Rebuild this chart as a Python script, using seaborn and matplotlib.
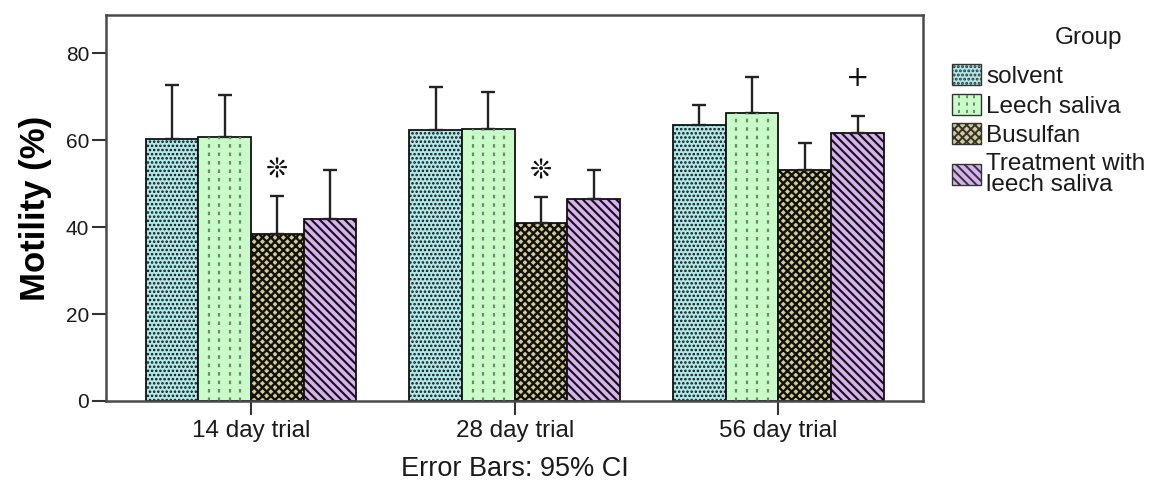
import matplotlib
matplotlib.use("Agg")
import matplotlib.pyplot as plt
from matplotlib.patches import Patch, Rectangle
from matplotlib.lines import Line2D
from matplotlib.legend_handler import HandlerBase
import seaborn as sns
import pandas as pd

trials = ["14 day trial", "28 day trial", "56 day trial"]
groups = ["solvent", "Leech saliva", "Busulfan", "Treatment with\nleech saliva"]
means = {
    "solvent":                      [60.2, 62.3, 63.4],
    "Leech saliva":                 [60.7, 62.6, 66.2],
    "Busulfan":                     [38.4, 40.9, 53.1],
    "Treatment with\nleech saliva": [41.9, 46.4, 61.6],
}
upper_ci = {
    "solvent":                      [72.6, 72.2, 68.0],
    "Leech saliva":                 [70.3, 71.0, 74.6],
    "Busulfan":                     [47.1, 46.9, 59.3],
    "Treatment with\nleech saliva": [53.1, 53.1, 65.6],
}
marks = [("14 day trial", "Busulfan", "\u274a", 53.0),
         ("28 day trial", "Busulfan", "\u274a", 52.8),
         ("56 day trial", "Treatment with\nleech saliva", "+", 74.2)]

colors = {"solvent": "#aee8e8", "Leech saliva": "#c9fcc9",
          "Busulfan": "#d4cc8c", "Treatment with\nleech saliva": "#d8b2f0"}
hatches = {"solvent": "....", "Leech saliva": None, "Busulfan": "xxxx",
           "Treatment with\nleech saliva": "\\\\\\\\"}
hatch_colors = {"solvent": "#557f7f", "Leech saliva": "#6a8a6a",
                "Busulfan": "#1a1a1a", "Treatment with\nleech saliva": "#2a2030"}
hatch_lw = {"solvent": 1.2, "Leech saliva": 1.0, "Busulfan": 1.7,
            "Treatment with\nleech saliva": 1.5}
leech_fracs = [0.2, 0.4, 0.6, 0.8]

rows = []
for g in groups:
    for i, t in enumerate(trials):
        rows.append({"trial": t, "group": g, "mean": means[g][i], "hi": upper_ci[g][i]})
df = pd.DataFrame(rows)

sns.set_style("white")
plt.rcParams["font.family"] = ["Liberation Sans", "DejaVu Sans"]
plt.rcParams["hatch.linewidth"] = 1.4

fig = plt.figure(figsize=(11.62, 4.84), dpi=100)
ax = fig.add_axes([0.0912, 0.1715, 0.7035, 0.7975])

sns.barplot(data=df, x="trial", y="mean", hue="group", order=trials, hue_order=groups,
            palette=colors, dodge=True, width=0.8, errorbar=None, saturation=1,
            edgecolor="#111111", linewidth=1.3, legend=False, ax=ax)


def style_patch(p, g):
    if hatches[g]:
        p.set_hatch(hatches[g])
        try:
            p.set_hatchcolor(hatch_colors[g])
        except Exception:
            pass
        try:
            p.set_hatch_linewidth(hatch_lw[g])
        except Exception:
            pass


cont = ax.containers
for gi, g in enumerate(groups):
    for ti, bar in enumerate(cont[gi]):
        style_patch(bar, g)
        x0, w, h = bar.get_x(), bar.get_width(), bar.get_height()
        if g == "Leech saliva":
            for f in leech_fracs:
                ax.plot([x0 + f * w, x0 + f * w], [0, h], color=hatch_colors[g],
                        lw=1.6, ls=(0, (1.6, 2.2)), zorder=bar.get_zorder() + 0.1,
                        solid_capstyle="butt", dash_capstyle="butt")
        cx = x0 + w / 2
        m = means[g][ti]
        hi = upper_ci[g][ti]
        ax.errorbar([cx], [m], yerr=[[0], [hi - m]], fmt="none", ecolor="#222222",
                    elinewidth=1.7, capsize=5, capthick=1.7, zorder=1)

for t, g, sym, yv in marks:
    bar = cont[groups.index(g)][trials.index(t)]
    cx = bar.get_x() + bar.get_width() / 2
    if sym == "+":
        ax.text(cx, yv, sym, ha="center", va="center", fontsize=20, color="#111111",
                family=["DejaVu Sans"])
    else:
        ax.text(cx, yv, sym, ha="center", va="center", fontsize=19, color="#111111",
                fontweight="bold", family=["DejaVu Sans"])

ax.set_xlim(-0.55, 2.55)
ax.set_ylim(0, 88.8)
ax.set_yticks([0, 20, 40, 60, 80])
ax.tick_params(axis="both", direction="out", length=10, width=1.5, color="#333333",
               labelcolor="#1a1a1a", bottom=True, left=True)
ax.tick_params(axis="y", labelsize=15, pad=2)
ax.tick_params(axis="x", labelsize=17.5, pad=4)
for s in ax.spines.values():
    s.set_color("#4a4a4a")
    s.set_linewidth(1.8)
ax.set_ylabel("Motility (%)", fontsize=25, fontweight="bold", labelpad=10, color="#000000")
ax.set_xlabel("Error Bars: 95% CI", fontsize=19.5, color="#1a1a1a", labelpad=10)


class LeechHandler(HandlerBase):
    def create_artists(self, legend, orig_handle, xdescent, ydescent, width, height,
                       fontsize, trans):
        g = "Leech saliva"
        r = Rectangle((-xdescent, -ydescent), width, height, facecolor=colors[g],
                      edgecolor="#333333", lw=1.0, transform=trans)
        arts = [r]
        for f in [0.25, 0.5, 0.75]:
            x = -xdescent + f * width
            arts.append(Line2D([x, x], [-ydescent + 1, -ydescent + height - 1],
                               color=hatch_colors[g], lw=1.4, ls=(0, (1.6, 2.2)),
                               transform=trans))
        return arts


handles = []
for g in groups:
    p = Patch(facecolor=colors[g], edgecolor="#333333", linewidth=1.0, label=g)
    style_patch(p, g)
    handles.append(p)

leg = fig.legend(handles=handles, loc="upper left", bbox_to_anchor=(952 / 1162, 1 - 64 / 484),
                 frameon=False, fontsize=17.5, handlelength=1.2, handleheight=0.95,
                 handletextpad=0.2, labelspacing=0.24, borderpad=0, borderaxespad=0,
                 handler_map={handles[1]: LeechHandler()})
for t in leg.get_texts():
    t.set_color("#1a1a1a")
leg.get_texts()[3].set_linespacing(0.95)
fig.text(1088 / 1162, 1 - 38 / 484, "Group", ha="center", va="center", fontsize=17.5,
         color="#1a1a1a")

fig.savefig("out.png", dpi=100)
